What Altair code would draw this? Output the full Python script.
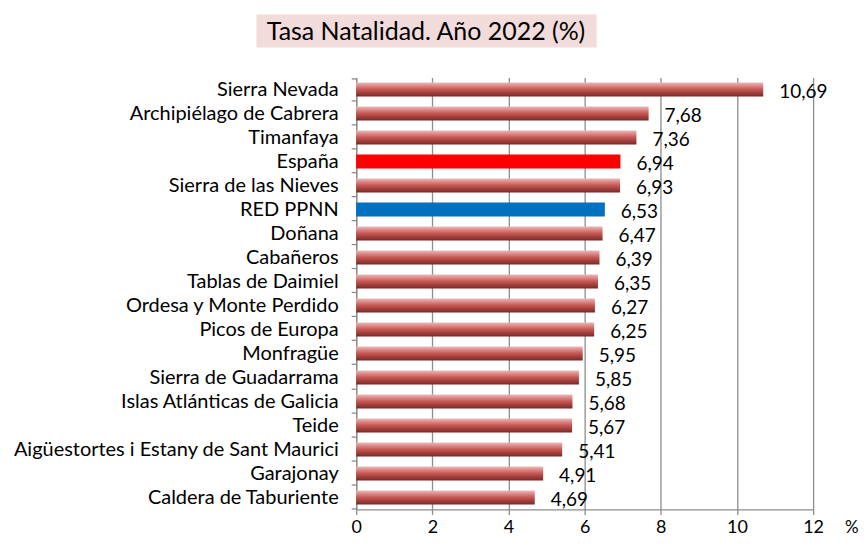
import altair as alt
import pandas as pd

categories = ["Sierra Nevada", "Archipiélago de Cabrera", "Timanfaya", "España",
              "Sierra de las Nieves", "RED PPNN", "Doñana", "Cabañeros",
              "Tablas de Daimiel", "Ordesa y Monte Perdido", "Picos de Europa",
              "Monfragüe", "Sierra de Guadarrama", "Islas Atlánticas de Galicia",
              "Teide", "Aigüestortes i Estany de Sant Maurici", "Garajonay",
              "Caldera de Taburiente"]
values = [10.69, 7.68, 7.36, 6.94, 6.93, 6.53, 6.47, 6.39, 6.35, 6.27, 6.25,
          5.95, 5.85, 5.68, 5.67, 5.41, 4.91, 4.69]
highlight = ["España", "RED PPNN"]
highlight_colors = ["#ff0000", "#0070c0"]
x_ticks = [0, 2, 4, 6, 8, 10, 12]
title_text = "Tasa Natalidad. Año 2022  (%)"
unit_text = "%"

df = pd.DataFrame({
    "cat": categories,
    "val": values,
    "label": [f"{v:.2f}".replace(".", ",") for v in values],
})

FONT = "Lato"
W, H = 458, 433

grad = alt.Gradient(
    gradient="linear",
    stops=[alt.GradientStop(color="#ebb9b8", offset=0),
           alt.GradientStop(color="#c65653", offset=0.5),
           alt.GradientStop(color="#7a2725", offset=1)],
    x1=0, x2=0, y1=0, y2=1,
)

x_enc = alt.X("val:Q", scale=alt.Scale(domain=[0, 12], nice=False),
              axis=alt.Axis(values=x_ticks, title=None, grid=True,
                            gridColor="#8c8c8c", gridWidth=1.3,
                            domainColor="#8c8c8c", domainWidth=1.3,
                            tickColor="#8c8c8c", tickSize=5, tickWidth=1.3,
                            labelFontSize=18, labelFont=FONT, labelColor="#000",
                            labelPadding=4, labelFlush=False))
y_enc = alt.Y("cat:N", sort=categories, scale=alt.Scale(domain=categories),
              axis=alt.Axis(title=None, tickBand="extent", domainColor="#8c8c8c",
                            domainWidth=1.3, tickColor="#8c8c8c", tickSize=5,
                            tickWidth=1.3, labelFontSize=20, labelFont=FONT,
                            labelColor="#000", labelPadding=13, labelLimit=500))

base = alt.Chart(df)

bars = base.mark_bar(size=14, color=grad).encode(x=x_enc, y=y_enc).transform_filter(
    ~alt.FieldOneOfPredicate(field="cat", oneOf=highlight))

hbars = base.mark_bar(size=14).encode(
    x=x_enc, y=y_enc,
    color=alt.Color("cat:N", scale=alt.Scale(domain=highlight, range=highlight_colors),
                    legend=None)
).transform_filter(alt.FieldOneOfPredicate(field="cat", oneOf=highlight))

labels = base.mark_text(align="left", baseline="middle", dx=16, dy=3,
                        fontSize=19, font=FONT, color="#000").encode(
    x="val:Q", y=alt.Y("cat:N", sort=categories), text="label:N")

one = pd.DataFrame({"t": [title_text], "u": [unit_text]})
title_box = alt.Chart(one).mark_rect(color="#f2dcdb").encode(
    x=alt.value(-100), x2=alt.value(241), y=alt.value(-63), y2=alt.value(-30))
title = alt.Chart(one).mark_text(fontSize=25, font=FONT, color="#000",
                                 align="center", baseline="middle").encode(
    x=alt.value(70), y=alt.value(-46), text="t:N")
unit = alt.Chart(one).mark_text(fontSize=17, font=FONT, color="#000",
                                align="left", baseline="middle").encode(
    x=alt.value(490), y=alt.value(H + 19), text="u:N")

chart = alt.layer(title_box, title, bars, hbars, labels, unit).properties(
    width=W, height=H, padding={"left": 4, "top": 6, "right": 0, "bottom": 0},
    background="white"
).configure_view(stroke=None)

chart.save("out.html", embed_options={"renderer": "svg", "actions": False})
